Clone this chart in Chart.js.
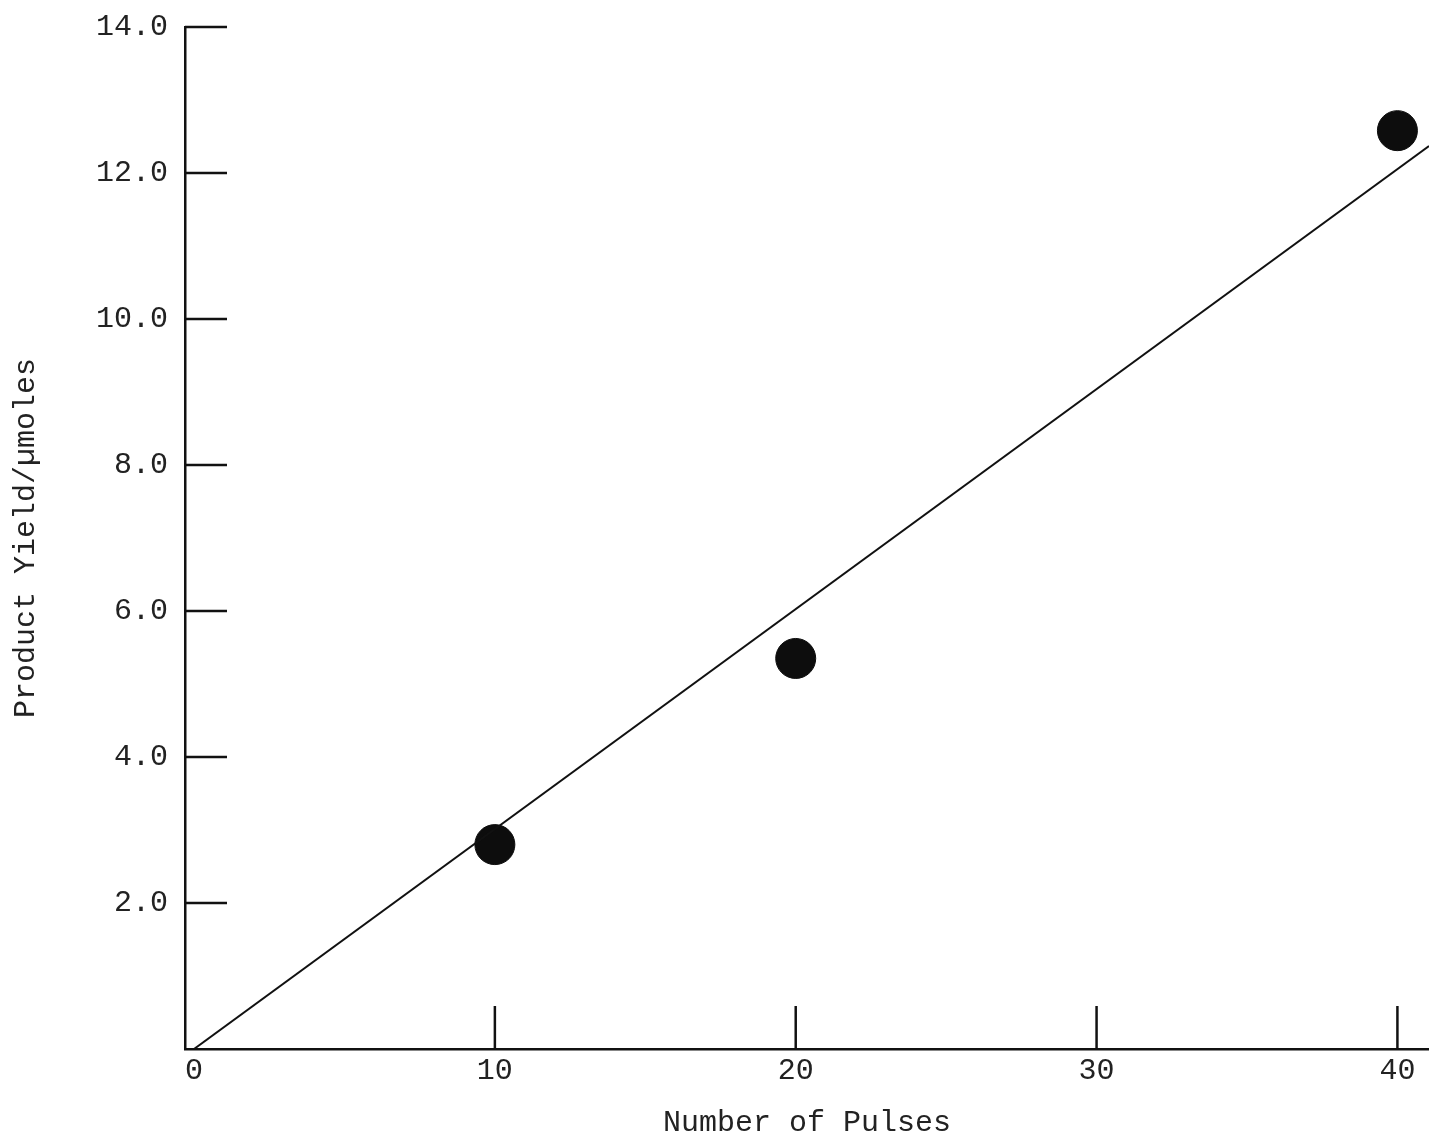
<!DOCTYPE html>
<html>
<head>
<meta charset="utf-8">
<script src="https://cdn.jsdelivr.net/npm/chart.js@4"></script>
<style>
  body { margin: 0; background: #fff; }
  canvas { display: block; }
</style>
</head>
<body>
<canvas id="pulseChart" width="1429" height="1141"></canvas>
<script>
// data
const pulses = [10, 20, 40];
const yieldValues = [2.8, 5.35, 12.58];
const fitX = [0, 41.05];
const fitY = [0, 12.37];
const xTickValues = [0, 10, 20, 30, 40];
const yTickValues = [2, 4, 6, 8, 10, 12, 14];

const typeFont = { family: '"Liberation Mono", "DejaVu Sans Mono", monospace', size: 30 };

// ticks in the original point into the plot, so draw them by hand
const inwardTicks = {
  id: 'inwardTicks',
  afterDatasetsDraw(chart) {
    const ctx = chart.ctx;
    const area = chart.chartArea;
    const xs = chart.scales.x;
    const ys = chart.scales.y;
    ctx.save();
    ctx.strokeStyle = '#111';
    ctx.lineWidth = 2.5;
    yTickValues.forEach(v => {
      const py = ys.getPixelForValue(v);
      ctx.beginPath();
      ctx.moveTo(area.left, py);
      ctx.lineTo(area.left + 42, py);
      ctx.stroke();
    });
    xTickValues.forEach(v => {
      if (v === 0) return;
      const px = xs.getPixelForValue(v);
      ctx.beginPath();
      ctx.moveTo(px, area.bottom);
      ctx.lineTo(px, area.bottom - 43);
      ctx.stroke();
    });
    ctx.restore();
  }
};

new Chart(document.getElementById('pulseChart'), {
  type: 'scatter',
  data: {
    datasets: [{
      label: 'fit',
      type: 'line',
      data: fitX.map((x, i) => ({ x: x, y: fitY[i] })),
      borderColor: '#111',
      borderWidth: 2,
      pointRadius: 0,
      fill: false
    }, {
      label: 'Product yield',
      data: pulses.map((x, i) => ({ x: x, y: yieldValues[i] })),
      backgroundColor: '#0d0d0d',
      borderColor: '#0d0d0d',
      pointRadius: 20,
      pointHoverRadius: 20,
      clip: false
    }]
  },
  plugins: [inwardTicks],
  options: {
    responsive: false,
    animation: false,
    layout: { autoPadding: false, padding: { top: 27, right: 0, left: 0, bottom: 0 } },
    plugins: {
      legend: { display: false },
      tooltip: { enabled: false }
    },
    scales: {
      x: {
        type: 'linear',
        min: -0.3,
        max: 41.05,
        afterBuildTicks: s => { s.ticks = xTickValues.map(v => ({ value: v })); },
        afterFit: s => { s.height = 92; s.paddingRight = 0; s.paddingLeft = 0; },
        grid: { display: false, drawTicks: false },
        border: { display: true, color: '#111', width: 2.5 },
        ticks: {
          color: '#222',
          font: typeFont,
          padding: 4,
          maxRotation: 0,
          autoSkip: false,
          callback: v => String(v)
        },
        title: {
          display: true,
          text: 'Number of Pulses',
          color: '#222',
          font: typeFont,
          padding: { top: 13, bottom: 0 }
        }
      },
      y: {
        type: 'linear',
        min: 0,
        max: 14,
        afterBuildTicks: s => { s.ticks = yTickValues.map(v => ({ value: v })); },
        afterFit: s => { s.width = 185; s.paddingTop = 0; s.paddingBottom = 0; },
        grid: { display: false, drawTicks: false },
        border: { display: true, color: '#111', width: 2.5 },
        ticks: {
          color: '#222',
          font: typeFont,
          padding: 17,
          callback: v => v.toFixed(1)
        },
        title: {
          display: true,
          text: 'Product Yield/µmoles',
          color: '#222',
          font: typeFont,
          padding: { top: 8, bottom: 12 }
        }
      }
    }
  }
});
</script>
</body>
</html>
